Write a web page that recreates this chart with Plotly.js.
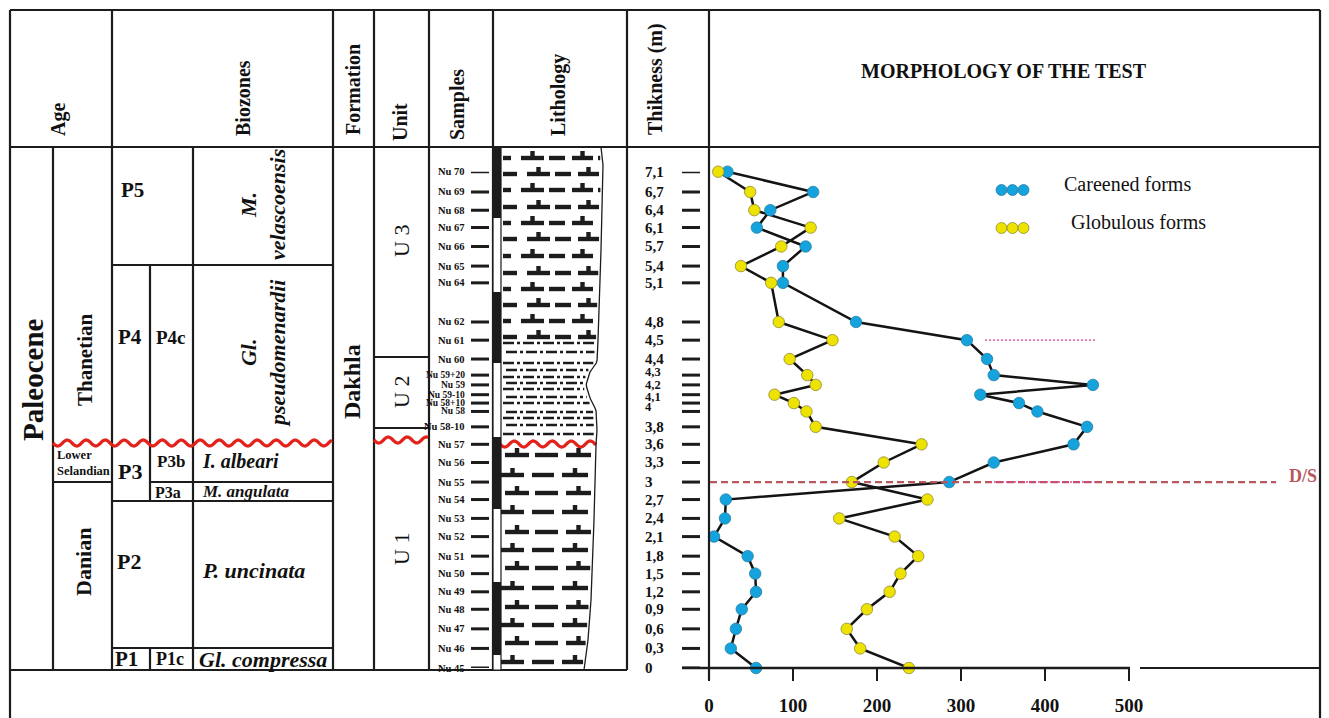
<!DOCTYPE html>
<html><head><meta charset="utf-8">
<script src="https://cdn.plot.ly/plotly-3.0.1.min.js"></script>
<style>html,body{margin:0;padding:0;background:#fff;} #chart{width:1329px;height:718px;}</style>
</head><body><div id="chart"></div>
<script>
// ---------------- DATA ----------------
const samples = ['Nu 70','Nu 69','Nu 68','Nu 67','Nu 66','Nu 65','Nu 64','Nu 62','Nu 61','Nu 60',
  'Nu 59+20','Nu 59','Nu 59-10','Nu 58+10','Nu 58','Nu 58-10','Nu 57','Nu 56','Nu 55','Nu 54',
  'Nu 53','Nu 52','Nu 51','Nu 50','Nu 49','Nu 48','Nu 47','Nu 46','Nu 45'];
const thicknessLabels = ['7,1','6,7','6,4','6,1','5,7','5,4','5,1','4,8','4,5','4,4',
  '4,3','4,2','4,1','4','','3,8','3,6','3,3','3','2,7',
  '2,4','2,1','1,8','1,5','1,2','0,9','0,6','0,3','0'];
// vertical position of each sample on the drawn log (log units, base = 0)
const logLevel = [7.10,6.81,6.55,6.30,6.03,5.75,5.51,4.95,4.69,4.42,
  4.19,4.05,3.91,3.79,3.67,3.45,3.20,2.94,2.66,2.41,
  2.14,1.88,1.60,1.35,1.09,0.84,0.56,0.28,0.00];
const careened = [22,124,73,57,115,88,88,175,307,331,
  339,457,323,369,391,450,434,339,286,20,
  19,6,46,55,56,39,32,26,56];
const globulous = [11,49,54,121,86,38,74,83,147,96,
  117,127,78,101,116,127,253,208,170,260,
  155,221,249,228,215,188,164,180,238];
const xTicks = [0,100,200,300,400,500];
const seriesNames = ['Careened forms','Globulous forms'];
const dsLevelIndex = 18; // Danian / Selandian boundary at sample Nu 55

// ---------------- HELPERS ----------------
const W=1329,H=718;
const px = x => x/W, py = y => 1 - y/H;
const FONT = '"Liberation Serif", "Times New Roman", serif';
const INK = '#1c1c1c';
const BLUE = '#14a3dc', YELLOW = '#eee200';
const shapes = [], ann = [];
function line(x0,y0,x1,y1,w,c,dash){ shapes.push({type:'line',xref:'paper',yref:'paper',x0:px(x0),y0:py(y0),x1:px(x1),y1:py(y1),line:{color:c||INK,width:w||2.2,dash:dash||'solid'}}); }
function rect(x0,y0,x1,y1,fill,lw){ shapes.push({type:'rect',xref:'paper',yref:'paper',x0:px(x0),y0:py(y0),x1:px(x1),y1:py(y1),fillcolor:fill,line:{width:lw||0,color:INK}}); }
function circ(cx,cy,r,fill,stroke){ shapes.push({type:'circle',xref:'paper',yref:'paper',x0:px(cx-r),x1:px(cx+r),y0:py(cy+r),y1:py(cy-r),fillcolor:fill,line:{color:stroke,width:0.8}}); }
function txt(t,x,y,size,o){ const a={text:t,xref:'paper',yref:'paper',x:px(x),y:py(y),showarrow:false,
  font:{family:FONT,size:size,color:'#111'},xanchor:'center',yanchor:'middle'}; Object.assign(a,o||{}); ann.push(a); }
function pathPx(pts){ return pts.map((p,i)=>(i?'L':'M')+px(p[0]).toFixed(5)+','+py(p[1]).toFixed(5)).join(''); }
function wavy(x0,x1,yc,amp,period){
  const pts=[]; for(let x=x0;x<=x1+0.01;x+=1.5){ pts.push([x, yc+amp*Math.sin(2*Math.PI*(x-x0)/period)]); }
  shapes.push({type:'path',xref:'paper',yref:'paper',path:pathPx(pts),line:{color:'#e3231b',width:3.2}});
}

// ---------------- FRAME / TABLE ----------------
line(10,10,1320,10); line(10,147,1320,147);
line(10,10,10,718); line(1320,10,1320,718);
[112,333,374,429,493,627].forEach(x=>line(x,10,x,670));
line(709,10,709,147); line(709,147,709,680);
line(10,670,627,670);
line(53,147,53,670);
line(193,147,193,670);
line(150,265,150,501); line(150,648,150,670);
line(112,265,333,265);
line(53,482,112,482); line(150,482,333,482);
line(112,501,333,501);
line(112,648,333,648);
line(374,357,429,357); line(374,428,429,428);
line(1140,668,1320,668);

// header texts (rotated, reading upward)
const HS=20;
txt('<b>Age</b>',58,120,HS,{textangle:-90});
txt('<b>Biozones</b>',243,98,HS,{textangle:-90});
txt('<b>Formation</b>',353,90,HS,{textangle:-90});
txt('<b>Unit</b>',400,122,HS,{textangle:-90});
txt('<b>Samples</b>',457,105,HS,{textangle:-90});
txt('<b>Lithology</b>',558,95,HS,{textangle:-90});
txt('<b>Thikness (m)</b>',655,79,HS,{textangle:-90});
txt('<b>MORPHOLOGY OF THE TEST</b>',1004,71,20);

// body texts
txt('<b>Paleocene</b>',33,380,29,{textangle:-90});
txt('<b>Thanetian</b>',85,360,21,{textangle:-90});
txt('<b>Lower<br>Selandian</b>',55,463,12.5,{xanchor:'left',align:'left'});
txt('<b>Danian</b>',83,562,22,{textangle:-90});
txt('<b>P5</b>',132,190,21);
txt('<b>P4</b>',130,337,21);
txt('<b>P4c</b>',171,337,19);
txt('<b>P3</b>',130,472,22);
txt('<b>P3b</b>',171,461,17);
txt('<b>P3a</b>',168,492,16);
txt('<b>P2</b>',129,561,22);
txt('<b>P1</b>',127,659,21);
txt('<b>P1c</b>',170,659,18);
txt('<b><i>M.<br>velascoensis</i></b>',263,205,22,{textangle:-90});
txt('<b><i>Gl.<br>pseudomenardii</i></b>',263,353,22,{textangle:-90});
txt('<b><i>I. albeari</i></b>',240,461,20);
txt('<b><i>M. angulata</i></b>',245,491,17);
txt('<b><i>P. uncinata</i></b>',253,570,22);
txt('<b><i>Gl. compressa</i></b>',263,659,22);
txt('<b>Dakhla</b>',352,382,24,{textangle:-90});
txt('U 3',401,241,22,{textangle:-90});
txt('U 2',401,392,22,{textangle:-90});
txt('U 1',401,549,22,{textangle:-90});

// unconformities
wavy(53,333,443,3,19);
wavy(374,429,440,3,19);
wavy(500,596,444,3,19);

// ---------------- LITHOLOGY ----------------
const B=[[147,601],[165,603],[250,601],[340,598],[362,597],[372,590],[385,586],[398,590],[410,596],[430,597],[445,596],[520,594],[600,591],[640,588],[670,584]];
function bx(y){ for(let i=0;i<B.length-1;i++){ if(y>=B[i][0]&&y<=B[i+1][0]){const t=(y-B[i][0])/(B[i+1][0]-B[i][0]); return B[i][1]+t*(B[i+1][1]-B[i][1]);} } return B[B.length-1][1]; }
function bar(x0,x1,yc){ const xm=Math.min(x1,bx(yc)-2); if(xm-x0>2) rect(x0,yc-2.2,xm,yc+2.2,INK); }
function tee(x0,x1,yc){ bar(x0,x1,yc); const xc=(x0+x1)/2; if(xc+2<bx(yc)-2) rect(xc-2.2,yc-7,xc+2.2,yc-2,INK); }
rect(493,147,501,670,'#fff',1.2);
[[147,218],[292,363],[437,509],[582,655]].forEach(s=>rect(493,s[0],501,s[1],INK));
{ const pts=[]; for(let y=147;y<=670;y+=3) pts.push([bx(y),y]);
  shapes.push({type:'path',xref:'paper',yref:'paper',path:pathPx(pts),line:{color:INK,width:1.3}}); }
[158,174,190,207,223,239,256,273,289,305,321,337].forEach((y,r)=>{
  const o=(r%2)*6;
  bar(503,511+o,y); tee(521+o,544+o,y); bar(549+o,565+o,y); tee(572+o,593+o,y); bar(598+o,612,y);
});
[343,352,363,370,377,383,389,397,403,412,418,425,434].forEach((y,r)=>{
  shapes.push({type:'line',xref:'paper',yref:'paper',x0:px(503+(r%2)*3),x1:px(bx(y)-3),y0:py(y),y1:py(y),line:{color:INK,width:2.4,dash:'11px,3px,3px,3px'}});
});
[455,475,493,512,532,550,568,588,607,625,643,662].forEach((y,r)=>{
  if(r%2===0){ tee(505,529,y); bar(535,558,y); tee(566,591,y); }
  else { tee(501,524,y); bar(532,554,y); tee(562,588,y); bar(595,602,y); }
});

// ---------------- AXES DECORATION ----------------
line(682,668,1130,668,2.4);
// the closely spaced Nu 59+20 … Nu 58-10 labels are drawn slightly smaller
const tightSamples = new Set(['Nu 59+20','Nu 59','Nu 59-10','Nu 58+10','Nu 58']);
samples.forEach((s,i)=>{
  ann.push({text:'<b>'+s+'</b>',xref:'paper',yref:'y',x:px(467),y:logLevel[i],xanchor:'right',yanchor:'middle',showarrow:false,
    font:{family:FONT,size:tightSamples.has(s)?9.5:10.5,color:'#111'}});
  shapes.push({type:'line',xref:'paper',yref:'y',x0:px(471),x1:px(489),y0:logLevel[i],y1:logLevel[i],line:{color:INK,width:3}});
});
// crowded labels of the 4,3–4 cluster are nudged apart, as in the original drawing
const labelNudge = {'4,3':3,'4,2':0,'4,1':-2,'4':-4};
thicknessLabels.forEach((t,i)=>{
  if(t) ann.push({text:'<b>'+t+'</b>',xref:'paper',yref:'y',x:px(643),y:logLevel[i],yshift:labelNudge[t]||0,xanchor:'left',yanchor:'middle',showarrow:false,
    font:{family:FONT,size:(t in labelNudge)?12.5:15,color:'#111'}});
  shapes.push({type:'line',xref:'paper',yref:'y',x0:px(682),x1:px(700),y0:logLevel[i],y1:logLevel[i],line:{color:INK,width:3}});
});
shapes.push({type:'line',xref:'paper',yref:'y',x0:px(710),x1:px(1276),y0:logLevel[dsLevelIndex],y1:logLevel[dsLevelIndex],line:{color:'#b8585e',width:2.2,dash:'7px,4px'}});
txt('<b>D/S</b>',1303,476,18,{font:{family:FONT,size:18,color:'#b8585e'}});
shapes.push({type:'line',xref:'paper',yref:'y',x0:px(985),x1:px(1095),y0:logLevel[8],y1:logLevel[8],line:{color:'#e0408f',width:1.4,dash:'2px,2px'}});
shapes.push({type:'line',xref:'paper',yref:'y',x0:px(990),x1:px(1095),y0:logLevel[dsLevelIndex],y1:logLevel[dsLevelIndex],line:{color:'#e0408f',width:1.4,dash:'2px,2px'}});

// legend
[1001.5,1012.5,1023.5].forEach(cx=>{ circ(cx,190,5.5,BLUE,'#2b7fa5'); circ(cx,228,5.5,YELLOW,'#8f8a3a'); });
txt(seriesNames[0],1062,184,20,{xanchor:'left'});
txt(seriesNames[1],1069,222,20,{xanchor:'left'});

// ---------------- TRACES ----------------
const traces=[
  {x:careened,y:logLevel,mode:'lines',line:{color:'#141414',width:2.5},cliponaxis:false,hoverinfo:'skip',name:seriesNames[0]},
  {x:globulous,y:logLevel,mode:'lines',line:{color:'#141414',width:2.5},cliponaxis:false,hoverinfo:'skip',name:seriesNames[1]},
  {x:careened,y:logLevel,mode:'markers',marker:{size:11.5,color:BLUE,line:{color:'#2b7fa5',width:0.8}},cliponaxis:false,name:seriesNames[0]},
  {x:globulous,y:logLevel,mode:'markers',marker:{size:11.5,color:YELLOW,line:{color:'#8f8a3a',width:0.8}},cliponaxis:false,name:seriesNames[1]}
];
const layout={
  width:W,height:H,margin:{l:0,r:0,t:0,b:0},paper_bgcolor:'#fff',plot_bgcolor:'rgba(0,0,0,0)',
  showlegend:false,
  xaxis:{domain:[px(709),px(1129)],range:[0,500],showgrid:false,zeroline:false,showline:false,
    tickmode:'array',tickvals:xTicks,ticktext:xTicks.map(v=>'<b>'+v+'</b>'),ticks:'outside',ticklen:12,tickwidth:2.4,tickcolor:INK,
    tickfont:{family:FONT,size:19,color:'#111'},ticklabelstandoff:8,fixedrange:true},
  yaxis:{domain:[py(668),py(171.7)],range:[0,7.1],visible:false,fixedrange:true},
  shapes:shapes,annotations:ann
};
Plotly.newPlot('chart',traces,layout,{displayModeBar:false,staticPlot:true});
</script></body></html>
